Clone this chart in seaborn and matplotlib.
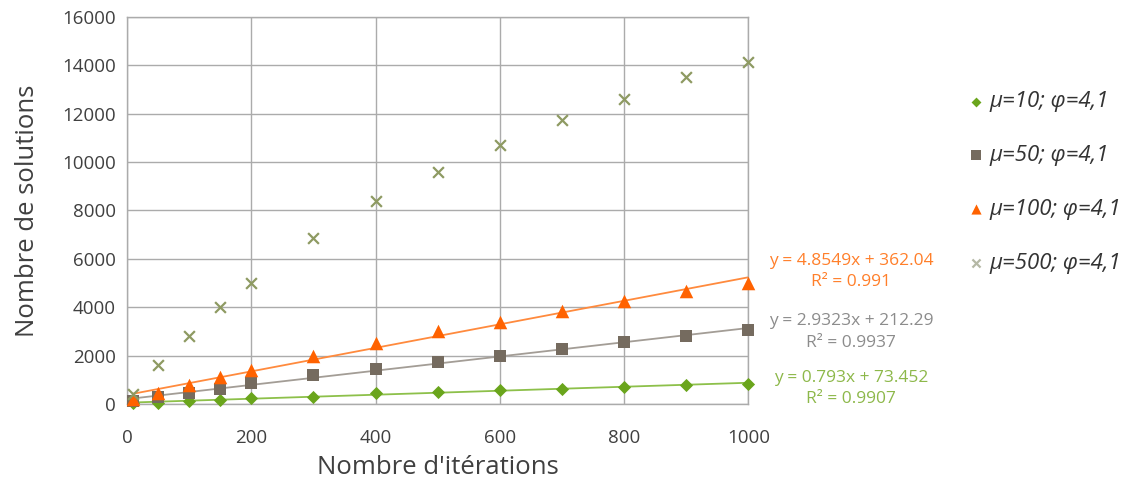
"""Nombre de solutions selon le nombre d'itérations (mu variable, phi=4,1)."""
import matplotlib

matplotlib.use("Agg")
import matplotlib.pyplot as plt
import pandas as pd
import seaborn as sns

# valeurs
iterations = [10, 50, 100, 150, 200, 300, 400, 500, 600, 700, 800, 900, 1000]
sol_mu10 = [20, 50, 120, 180, 250, 300, 430, 480, 560, 630, 690, 800, 830]
sol_mu50 = [100, 300, 450, 600, 850, 1200, 1450, 1750, 2000, 2250, 2550, 2800, 3050]
sol_mu100 = [200, 450, 800, 1100, 1400, 2000, 2500, 3000, 3400, 3850, 4250, 4650, 5000]
sol_mu500 = [400, 1600, 2800, 4000, 5000, 6850, 8400, 9600, 10700, 11750, 12600, 13500, 14150]

series_labels = ["μ=10; φ=4,1", "μ=50; φ=4,1", "μ=100; φ=4,1", "μ=500; φ=4,1"]
series_values = [sol_mu10, sol_mu50, sol_mu100, sol_mu500]

# équations de tendance affichées (Excel)
trend_series = ["μ=100; φ=4,1", "μ=50; φ=4,1", "μ=10; φ=4,1"]
trend_equations = ["y = 4.8549x + 362.04", "y = 2.9323x + 212.29", "y = 0.793x + 73.452"]
trend_r2 = ["R² = 0.991", "R² = 0.9937", "R² = 0.9907"]

x_ticks = [0, 200, 400, 600, 800, 1000]
y_ticks = [0, 2000, 4000, 6000, 8000, 10000, 12000, 14000, 16000]

palette = {
    "μ=10; φ=4,1": "#6AA51C",
    "μ=50; φ=4,1": "#756B5F",
    "μ=100; φ=4,1": "#FF6200",
    "μ=500; φ=4,1": "#8E9A62",
}
markers = {
    "μ=10; φ=4,1": "D",
    "μ=50; φ=4,1": "s",
    "μ=100; φ=4,1": "^",
    "μ=500; φ=4,1": "x",
}
marker_sizes = {
    "μ=10; φ=4,1": 45,
    "μ=50; φ=4,1": 80,
    "μ=100; φ=4,1": 95,
    "μ=500; φ=4,1": 60,
}
line_colors = {
    "μ=10; φ=4,1": "#8DC04A",
    "μ=50; φ=4,1": "#A39D96",
    "μ=100; φ=4,1": "#FF8A3D",
}
text_colors = {
    "μ=10; φ=4,1": "#8DB84A",
    "μ=50; φ=4,1": "#8C8C8C",
    "μ=100; φ=4,1": "#FF7F2A",
}

frames = []
for label, values in zip(series_labels, series_values):
    frames.append(pd.DataFrame({"iterations": iterations, "solutions": values, "serie": label}))
df = pd.concat(frames, ignore_index=True)

sns.set_theme(style="white")
plt.rcParams["font.family"] = ["Open Sans", "DejaVu Sans"]

fig = plt.figure(figsize=(11.34, 4.86), dpi=100)
ax = fig.add_axes([0.112, 0.169, 0.548, 0.796])

# droites de tendance
for label in trend_series:
    sub = df[df["serie"] == label]
    sns.regplot(
        data=sub,
        x="iterations",
        y="solutions",
        scatter=False,
        ci=None,
        truncate=True,
        color=line_colors[label],
        line_kws={"linewidth": 1.3},
        ax=ax,
    )

for label in series_labels:
    sub = df[df["serie"] == label]
    kws = {"linewidth": 1.6} if markers[label] == "x" else {"linewidth": 0}
    sns.scatterplot(
        data=sub,
        x="iterations",
        y="solutions",
        color=palette[label],
        marker=markers[label],
        s=marker_sizes[label],
        label=label,
        ax=ax,
        zorder=3,
        clip_on=False,
        **kws,
    )

ax.set_xlim(0, 1000)
ax.set_ylim(0, 16000)
ax.set_xticks(x_ticks)
ax.set_yticks(y_ticks)
ax.tick_params(axis="both", labelsize=13.5, length=0, colors="#404040")
ax.tick_params(axis="x", pad=18)
ax.tick_params(axis="y", pad=8)
ax.set_xlabel("Nombre d'itérations", fontsize=18.5, color="#404040", labelpad=6)
ax.set_ylabel("Nombre de solutions", fontsize=18.5, color="#404040", labelpad=16)
ax.grid(True, color="#ABABAB", linewidth=1)
ax.set_axisbelow(True)
for spine in ax.spines.values():
    spine.set_color("#ABABAB")
    spine.set_linewidth(1)

# texte des équations
eq_y = [5480, 2980, 640]
for label, eq, r2, ypos in zip(trend_series, trend_equations, trend_r2, eq_y):
    ax.text(
        1165, ypos, eq + "\n" + r2,
        ha="center", va="center", fontsize=12.5, linespacing=1.45,
        color=text_colors[label], clip_on=False,
    )

handles, labels = ax.get_legend_handles_labels()
leg = ax.legend(
    handles,
    labels,
    loc="upper left",
    bbox_to_anchor=(0.833, 0.853),
    bbox_transform=fig.transFigure,
    frameon=False,
    prop={"style": "italic", "size": 16},
    labelspacing=1.48,
    handletextpad=0.1,
    handlelength=1.0,
    markerscale=0.75,
    labelcolor="#333333",
)
leg.legend_handles[3].set_color("#B5B8A5")

fig.savefig("out.png", dpi=100)
